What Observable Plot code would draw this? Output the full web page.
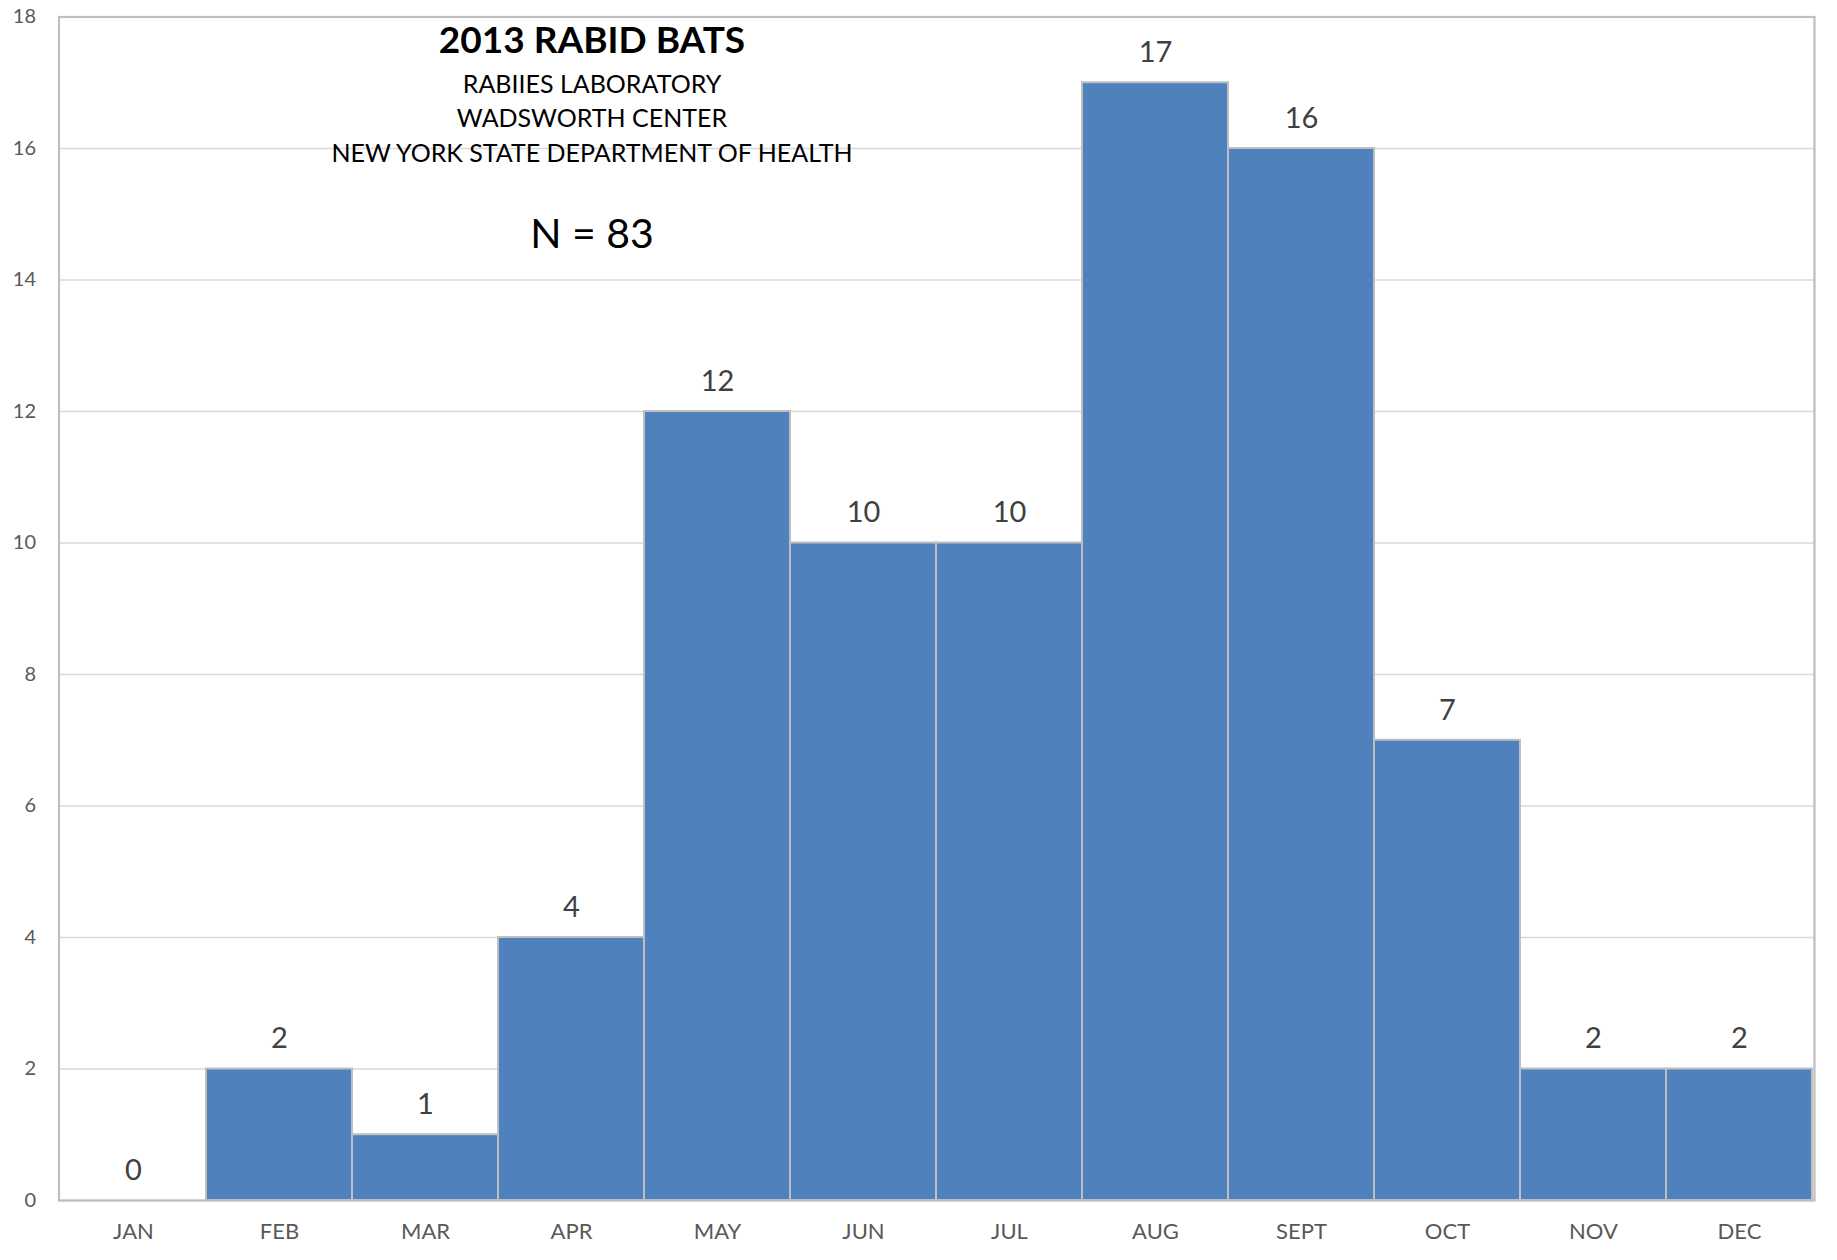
<!DOCTYPE html>
<html>
<head>
<meta charset="utf-8">
<script src="https://cdn.jsdelivr.net/npm/d3@7"></script>
<script src="https://cdn.jsdelivr.net/npm/@observablehq/plot@0.6"></script>
<style>
  html, body { margin: 0; padding: 0; background: #ffffff; }
  #chart { position: relative; width: 1837px; height: 1260px; }
</style>
</head>
<body>
<div id="chart"></div>
<script>
const months = ["JAN", "FEB", "MAR", "APR", "MAY", "JUN", "JUL", "AUG", "SEPT", "OCT", "NOV", "DEC"];
const counts = [0, 2, 1, 4, 12, 10, 10, 17, 16, 7, 2, 2];
const yTicks = [0, 2, 4, 6, 8, 10, 12, 14, 16, 18];
const titleText = "2013 RABID BATS";
const subtitleLines = ["RABIIES LABORATORY", "WADSWORTH CENTER", "NEW YORK STATE DEPARTMENT OF HEALTH"];
const totalText = "N = 83";

const data = months.map((m, i) => ({month: m, count: counts[i]}));

const font = "Lato, 'Open Sans', sans-serif";

const plot = Plot.plot({
  width: 1837,
  height: 1260,
  marginLeft: 58.5,
  marginRight: 23,
  marginTop: 16.5,
  marginBottom: 60,
  style: {fontFamily: font, background: "#ffffff", overflow: "visible"},
  x: {domain: months, padding: 0, label: null},
  y: {domain: [0, 18], label: null},
  marks: [
    Plot.gridY(yTicks, {stroke: "#D9D9D9", strokeOpacity: 1, strokeWidth: 1.5}),
    Plot.barY(data, {x: "month", y: "count", fill: "#4F81BD", stroke: "#BFBFBF", strokeWidth: 2}),
    Plot.frame({stroke: "#BFBFBF", strokeWidth: 2.2}),
    Plot.text(data, {x: "month", y: "count", text: d => String(d.count), dy: -30, fontSize: 29, fill: "#404040"}),
    Plot.axisX({tickSize: 0, tickPadding: 23, fontSize: 22, fill: "#595959", label: null}),
    Plot.axisY(yTicks, {tickSize: 0, tickPadding: 23, fontSize: 20, fill: "#595959", label: null, tickFormat: d3.format("d")})
  ]
});

document.getElementById("chart").appendChild(plot);

// Annotation block inside the plot area
const svg = d3.select(plot);
const g = svg.append("g")
  .attr("font-family", font)
  .attr("text-anchor", "middle")
  .attr("fill", "#000000");
const cx = 592;
g.append("text").attr("x", cx).attr("y", 53).attr("font-size", 37).attr("font-weight", "bold").text(titleText);
const baselines = [92.7, 126.7, 161.7];
subtitleLines.forEach((t, i) => {
  g.append("text").attr("x", cx).attr("y", baselines[i]).attr("font-size", 25).text(t);
});
g.append("text").attr("x", cx).attr("y", 248).attr("font-size", 41).text(totalText);
</script>
</body>
</html>
